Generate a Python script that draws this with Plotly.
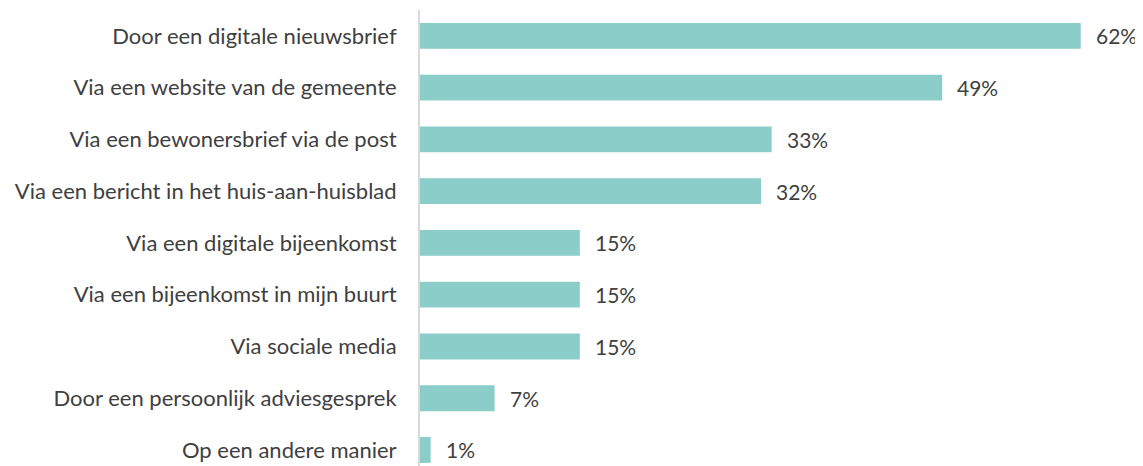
import plotly.graph_objects as go

categories = [
    "Door een digitale nieuwsbrief",
    "Via een website van de gemeente",
    "Via een bewonersbrief via de post",
    "Via een bericht in het huis-aan-huisblad",
    "Via een digitale bijeenkomst",
    "Via een bijeenkomst in mijn buurt",
    "Via sociale media",
    "Door een persoonlijk adviesgesprek",
    "Op een andere manier",
]
values = [62, 49, 33, 32, 15, 15, 15, 7, 1]

FONT = "Lato"
TXT = "#404040"
FS = 22

fig = go.Figure(go.Bar(
    x=values, y=categories, orientation="h",
    marker=dict(color="#8ACDC9", line=dict(width=0)),
    width=0.5, hoverinfo="skip",
))

for c, v in zip(categories, values):
    fig.add_annotation(x=v, y=c, text=f"{v}%", showarrow=False,
                       xanchor="left", xshift=13,
                       font=dict(family=FONT, size=FS - 1, color=TXT))

fig.update_layout(
    width=1135, height=458,
    margin=dict(l=412, r=9, t=2, b=0),
    paper_bgcolor="white", plot_bgcolor="white",
    showlegend=False,
    font=dict(family=FONT, size=FS, color=TXT),
    xaxis=dict(range=[0, 67], visible=False, fixedrange=True),
    yaxis=dict(type="category", range=[8.31, -0.5], showline=True,
               linecolor="#D9D9D9", linewidth=2, showgrid=False,
               ticks="", ticklabelstandoff=17, zeroline=False,
               tickfont=dict(family=FONT, size=FS, color=TXT)),
)

fig.write_html("out.html")
